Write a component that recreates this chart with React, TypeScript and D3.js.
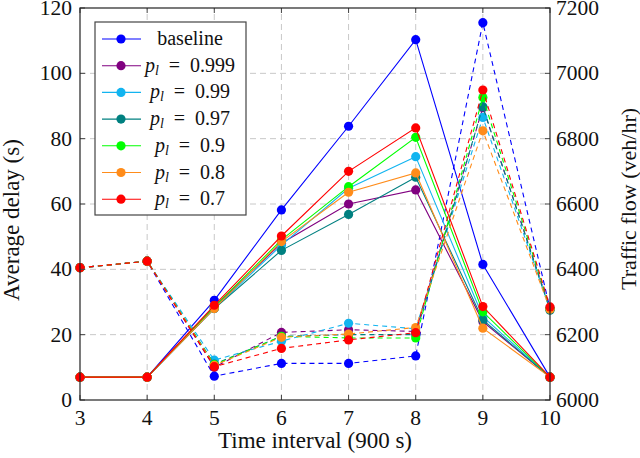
import * as d3 from "d3";

const intervals = [3, 4, 5, 6, 7, 8, 9, 10];

const seriesNames = ["baseline", "0.999", "0.99", "0.97", "0.9", "0.8", "0.7"];
const seriesColors = ["#0000ff", "#800080", "#12b4f0", "#008080", "#00ff00", "#ff8c1a", "#ff0000"];

// average delay (s), left axis
const delayBaseline = [7, 7, 30.5, 58.2, 83.8, 110.3, 41.5, 7];
const delayP999 = [7, 7, 28.5, 48, 60, 64.3, 24, 7];
const delayP99 = [7, 7, 28, 47.4, 64.8, 74.5, 25.5, 7];
const delayP97 = [7, 7, 28, 45.8, 56.8, 68.2, 24.5, 7];
const delayP9 = [7, 7, 28.5, 49, 65.3, 80.4, 27, 7];
const delayP8 = [7, 7, 28, 48.5, 63.6, 69.5, 22, 7];
const delayP7 = [7, 7, 29, 50.2, 70, 83.3, 28.6, 7];

// traffic flow (veh/hr), right axis
const flowBaseline = [6405, 6425, 6073, 6112, 6112, 6135, 7155, 6280];
const flowP999 = [6405, 6425, 6100, 6207, 6215, 6210, 6895, 6280];
const flowP99 = [6405, 6425, 6122, 6180, 6235, 6218, 6865, 6278];
const flowP97 = [6405, 6425, 6110, 6195, 6200, 6200, 6898, 6275];
const flowP9 = [6405, 6425, 6108, 6195, 6190, 6190, 6926, 6280];
const flowP8 = [6405, 6425, 6106, 6192, 6202, 6222, 6824, 6278];
const flowP7 = [6405, 6425, 6102, 6158, 6184, 6206, 6949, 6285];

const delays = [delayBaseline, delayP999, delayP99, delayP97, delayP9, delayP8, delayP7];
const flows = [flowBaseline, flowP999, flowP99, flowP97, flowP9, flowP8, flowP7];

const delayTicks = [0, 20, 40, 60, 80, 100, 120];
const flowTicks = [6000, 6200, 6400, 6600, 6800, 7000, 7200];

const W = 640;
const H = 458;
const margin = { top: 8, right: 90, bottom: 58, left: 80 };
const font = "Liberation Serif";

export default function App() {
  const x = d3.scaleLinear().domain([3, 10]).range([margin.left, W - margin.right]);
  const yL = d3.scaleLinear().domain([0, 120]).range([H - margin.bottom, margin.top]);
  const yR = d3.scaleLinear().domain([6000, 7200]).range([H - margin.bottom, margin.top]);

  const x0 = margin.left;
  const x1 = W - margin.right;
  const y0 = H - margin.bottom;
  const y1 = margin.top;

  const lineL = d3.line<number>().x((_, i) => x(intervals[i])).y((d) => yL(d));
  const lineR = d3.line<number>().x((_, i) => x(intervals[i])).y((d) => yR(d));

  const legX = 95;
  const legY = 22;
  const legRow = 26.7;

  return (
    <svg
      width={W}
      height={H}
      fontFamily={font}
      style={{ position: "fixed", left: 0, top: 0, background: "#fff" }}
    >
      {/* grid */}
      <g stroke="#c8c8c8" strokeDasharray="6,4" strokeWidth={1}>
        {intervals.slice(1, -1).map((t) => (
          <line key={"gx" + t} x1={x(t)} x2={x(t)} y1={y0} y2={y1} />
        ))}
        {delayTicks.slice(1, -1).map((t) => (
          <line key={"gy" + t} x1={x0} x2={x1} y1={yL(t)} y2={yL(t)} />
        ))}
      </g>

      {/* series: solid = delay (left), dashed = flow (right) */}
      {delays.map((d, i) => (
        <g key={"s" + i}>
          <path d={lineL(d) ?? ""} fill="none" stroke={seriesColors[i]} strokeWidth={1.1} />
          {d.map((v, j) => (
            <circle key={j} cx={x(intervals[j])} cy={yL(v)} r={4.6} fill={seriesColors[i]} />
          ))}
          <path
            d={lineR(flows[i]) ?? ""}
            fill="none"
            stroke={seriesColors[i]}
            strokeWidth={1.1}
            strokeDasharray="5,4"
          />
          {flows[i].map((v, j) => (
            <circle key={"f" + j} cx={x(intervals[j])} cy={yR(v)} r={4.6} fill={seriesColors[i]} />
          ))}
        </g>
      ))}

      {/* ticks */}
      <g stroke="#444" strokeWidth={1}>
        {intervals.map((t) => (
          <g key={"tx" + t}>
            <line x1={x(t)} x2={x(t)} y1={y0} y2={y0 - 5} />
            <line x1={x(t)} x2={x(t)} y1={y1} y2={y1 + 5} />
          </g>
        ))}
        {delayTicks.map((t) => (
          <g key={"ty" + t}>
            <line x1={x0} x2={x0 + 5} y1={yL(t)} y2={yL(t)} />
            <line x1={x1} x2={x1 - 5} y1={yL(t)} y2={yL(t)} />
          </g>
        ))}
      </g>
      <rect x={x0} y={y1} width={x1 - x0} height={y0 - y1} fill="none" stroke="#222" strokeWidth={1.2} />

      {/* tick labels */}
      <g fontSize={21.5} fill="#111">
        {intervals.map((t) => (
          <text key={"lx" + t} x={x(t)} y={y0 + 25} textAnchor="middle">
            {t}
          </text>
        ))}
        {delayTicks.map((t) => (
          <text key={"ll" + t} x={x0 - 8} y={yL(t) + 7} textAnchor="end">
            {t}
          </text>
        ))}
        {flowTicks.map((t) => (
          <text key={"lr" + t} x={x1 + 6} y={yR(t) + 7} textAnchor="start">
            {t}
          </text>
        ))}
      </g>

      {/* axis labels */}
      <g fontSize={23} fill="#111">
        <text x={(x0 + x1) / 2} y={H - 10} textAnchor="middle">
          Time interval (900 s)
        </text>
        <text transform="translate(19,220) rotate(-90)" textAnchor="middle">
          Average delay (s)
        </text>
        <text transform="translate(636,199) rotate(-90)" textAnchor="middle" fontSize={22}>
          Traffic flow (veh/hr)
        </text>
      </g>

      {/* legend */}
      <g>
        <rect
          x={legX}
          y={legY}
          width={151}
          height={193}
          fill="#fff"
          stroke="#444"
          strokeWidth={1.2}
        />
        {seriesNames.map((name, i) => {
          const cy = legY + 17 + i * legRow;
          return (
            <g key={"lg" + i}>
              <line x1={legX + 7} x2={legX + 46} y1={cy} y2={cy} stroke={seriesColors[i]} strokeWidth={1.1} />
              <circle cx={legX + 26} cy={cy} r={4.6} fill={seriesColors[i]} />
              {i === 0 ? (
                <text x={legX + 95} y={cy + 6} textAnchor="middle" fontSize={20} fill="#111">
                  baseline
                </text>
              ) : (
                <text x={legX + 95} y={cy + 6} textAnchor="middle" fontSize={20} fill="#111">
                  <tspan fontStyle="italic">p</tspan>
                  <tspan fontStyle="italic" fontSize={14} dy={3}>
                    l
                  </tspan>
                  <tspan dy={-3}>{"\u2002=\u2002" + name}</tspan>
                </text>
              )}
            </g>
          );
        })}
      </g>
    </svg>
  );
}
